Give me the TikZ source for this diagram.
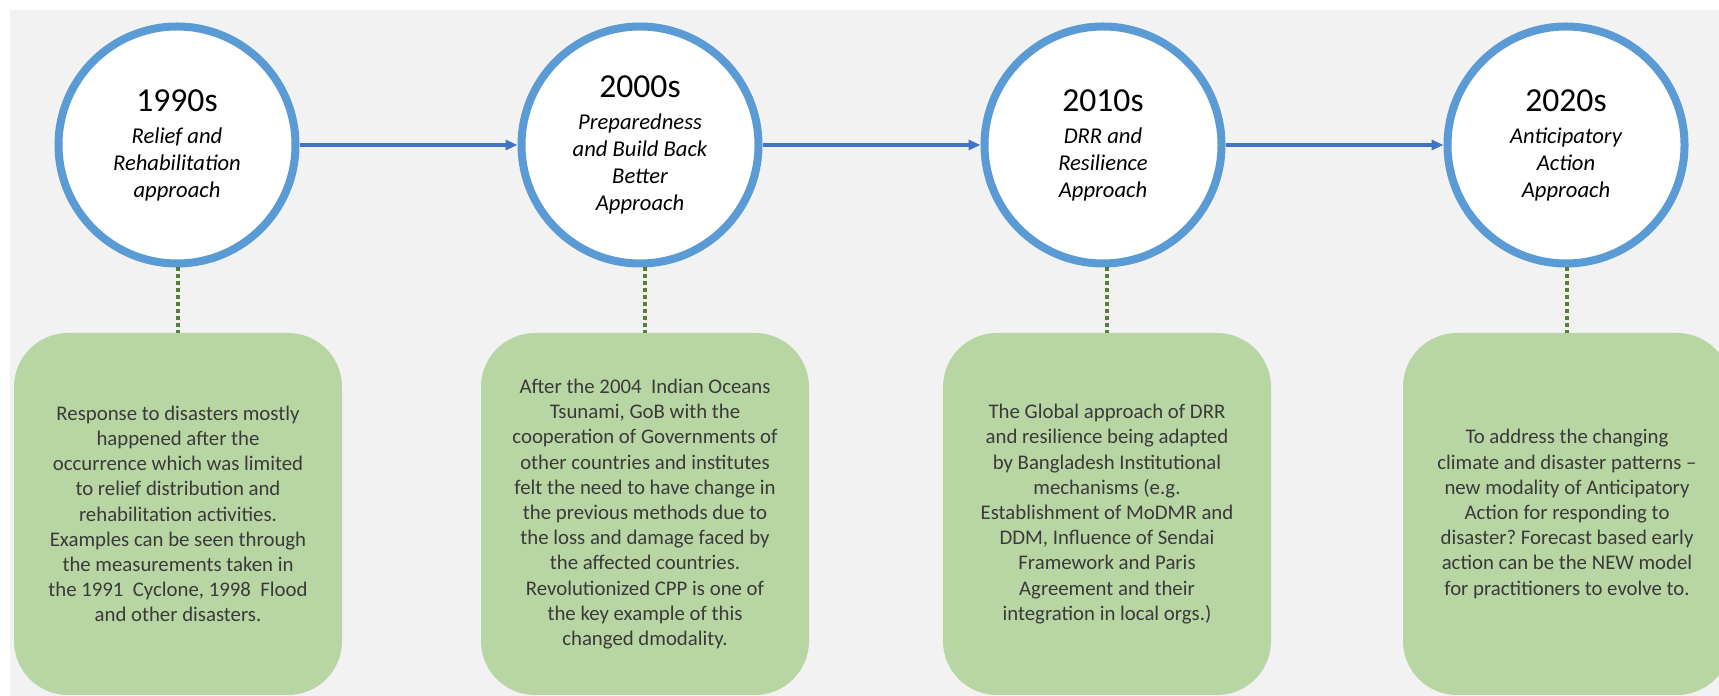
\documentclass[tikz,border=0pt]{standalone}
\usepackage{fontspec}
\setmainfont{Carlito}
\frenchspacing
\usetikzlibrary{arrows.meta}
\definecolor{ringblue}{HTML}{5B9BD5}
\definecolor{linkblue}{HTML}{4472C4}
\definecolor{cardgreen}{HTML}{B7D6A3}
\definecolor{stemgreen}{HTML}{548235}
\definecolor{paper}{HTML}{F2F2F2}
\definecolor{cardtext}{HTML}{3A3A3A}

\begin{document}
\begin{tikzpicture}[x=0.5pt,y=0.5pt,
    era/.style={circle,draw=ringblue,line width=4pt,fill=white,minimum size=118.5pt,
        inner sep=0pt,align=center,font=\fontsize{11.3}{13.5}\selectfont\itshape},
    card/.style={fill=cardgreen,rounded corners=27pt,minimum width=164pt,minimum height=181pt,
        align=center,text=cardtext,font=\fontsize{10.4}{12.6}\selectfont},
    link/.style={linkblue,line width=1.6pt,-{Triangle[length=6pt,width=5pt]}},
    stem/.style={stemgreen,line width=2pt,dash pattern=on 2pt off 1.5pt}]
        \useasboundingbox (0,0) rectangle (1719,696);
        % backdrop
        \fill[paper] (10,0) rectangle (1719,686);

        % decades
        \foreach \i/\x/\yr/\txt in {%
        1/177/1990s/{Relief and\\Rehabilitation\\approach},
        2/640/2000s/{Preparedness\\and Build Back\\Better\\Approach},
        3/1103/2010s/{DRR and\\Resilience\\Approach},
        4/1566/2020s/{Anticipatory\\Action\\Approach}}{
                \node[era] (c\i) at (\x,551) {{\upshape\fontsize{16.8}{19}\selectfont\yr}\\[2.5pt]\txt};
            }

        % timeline arrows
        \foreach \i/\j in {1/2,2/3,3/4}{
                \draw[link] (c\i) -- (c\j);
            }

        % notes under each decade
        \foreach \i/\x/\txt in {%
        1/178/{Response to disasters mostly\\happened after the\\occurrence which was limited\\to relief distribution and\\rehabilitation activities.\\Examples can be seen through\\the measurements taken in\\the 1991\ \ Cyclone, 1998\ \ Flood\\and other disasters.},
        2/645/{After the 2004\ \ Indian Oceans\\Tsunami, GoB with the\\cooperation of Governments of\\other countries and institutes\\felt the need to have change in\\the previous methods due to\\the loss and damage faced by\\the affected countries.\\Revolutionized CPP is one of\\the key example of this\\changed dmodality.},
        3/1107/{The Global approach of DRR\\and resilience being adapted\\by Bangladesh Institutional\\mechanisms (e.g.\\Establishment of MoDMR and\\DDM, Influence of Sendai\\Framework and Paris\\Agreement and their\\integration in local orgs.)},
        4/1567/{To address the changing\\climate and disaster patterns --\\new modality of Anticipatory\\Action for responding to\\disaster? Forecast based early\\action can be the NEW model\\for practitioners to evolve to.}}{
                \node[card] (b\i) at (\x,182) {\txt};
                \draw[stem] (c\i.south -| b\i.north) -- (b\i.north);
            }
    \end{tikzpicture}
\end{document}
